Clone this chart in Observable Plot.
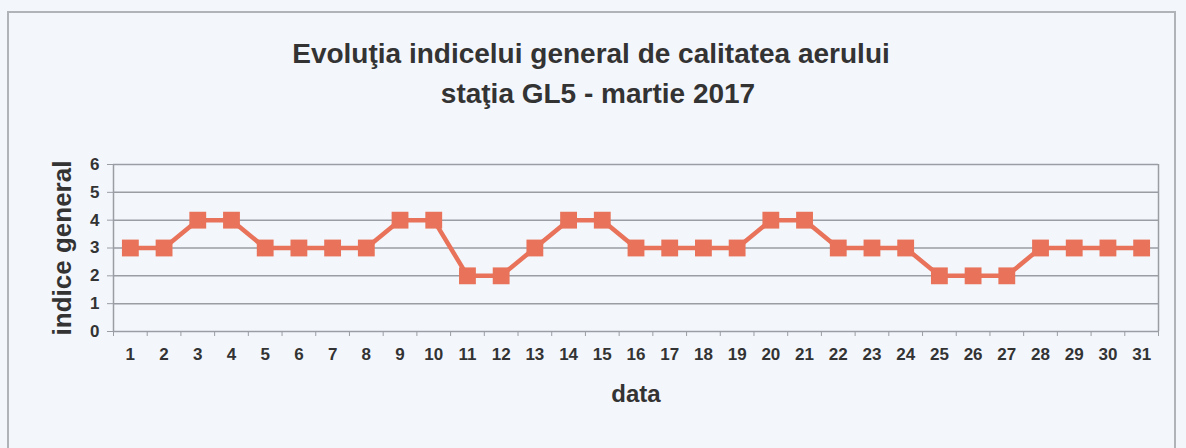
<!DOCTYPE html>
<html>
<head>
<meta charset="utf-8">
<script src="https://cdn.jsdelivr.net/npm/d3@7"></script>
<script src="https://cdn.jsdelivr.net/npm/@observablehq/plot@0.6"></script>
<style>
  html, body { margin: 0; padding: 0; background: #f3f7fc; }
  #wrap { position: relative; width: 1186px; height: 448px; overflow: hidden; font-family: "Liberation Sans", Arial, sans-serif; }
  #frame { position: absolute; left: 7px; top: 11px; width: 1169px; height: 460px; border: 2px solid #b0b3b8; box-sizing: border-box; }
  .title { position: absolute; left: 0; width: 1186px; text-align: center; font-weight: bold; font-size: 28px; color: #333; line-height: 32px; }
  #chart { position: absolute; left: 0; top: 0; }
  #chart g[aria-label$="tick label"] { font-size: 17px; font-weight: bold; }
  #chart g[aria-label$="tick label"] text { font-size: 17px; }
</style>
</head>
<body>
<div id="wrap">
  <div id="frame"></div>
  <div class="title" style="top:38px; left:-2px;">Evoluţia indicelui general de calitatea aerului</div>
  <div class="title" style="top:78px; left:5px;">staţia GL5 - martie 2017</div>
  <div id="chart"></div>
</div>
<script>
const days = d3.range(1, 32);
const indice = [3,3,4,4,3,3,3,3,4,4,2,2,3,4,4,3,3,3,3,4,4,3,3,3,2,2,2,3,3,3,3];
const yTicks = [0,1,2,3,4,5,6];
const xLabel = "data";
const yLabel = "indice general";

const data = days.map((d, i) => ({day: d, value: indice[i]}));
const color = "#e8735a";
const axisColor = "#9a9da3";

const plot = Plot.plot({
  width: 1186,
  height: 448,
  marginLeft: 113,
  marginRight: 28,
  marginTop: 164,
  marginBottom: 117,
  style: {background: "transparent", fontFamily: "Liberation Sans, Arial, sans-serif", color: "#333"},
  x: {type: "linear", domain: [0.5, 31.5]},
  y: {domain: [0, 6]},
  marks: [
    Plot.gridY(yTicks, {stroke: axisColor, strokeOpacity: 1, strokeWidth: 1.5}),
    Plot.ruleX([0.5], {stroke: axisColor, strokeWidth: 1.5}),
    Plot.ruleX([31.5], {stroke: axisColor, strokeWidth: 1.5}),
    Plot.axisY({ticks: yTicks, tickSize: 6, tickPadding: 8, tickFormat: d3.format("d"), stroke: axisColor, fontSize: 17, fontWeight: "bold", label: null}),
    Plot.axisX({ticks: d3.range(0.5, 32, 1), tickSize: 5, tickFormat: () => "", stroke: axisColor, label: null}),
    Plot.axisX({ticks: days, tickSize: 0, tickPadding: 16, tickFormat: d => String(d), fontSize: 17, fontWeight: "bold", label: null}),
    Plot.text([xLabel], {frameAnchor: "bottom", dy: 70, fontSize: 24, fontWeight: "bold", fill: "#333"}),
    Plot.text([yLabel], {frameAnchor: "left", textAnchor: "middle", rotate: -90, dx: -51, fontSize: 26, fontWeight: "bold", fill: "#333"}),
    Plot.line(data, {x: "day", y: "value", stroke: color, strokeWidth: 4.5}),
    Plot.dot(data, {x: "day", y: "value", symbol: "square", r: 9.5, fill: color, stroke: "none"})
  ]
});
document.getElementById("chart").appendChild(plot);
</script>
</body>
</html>
